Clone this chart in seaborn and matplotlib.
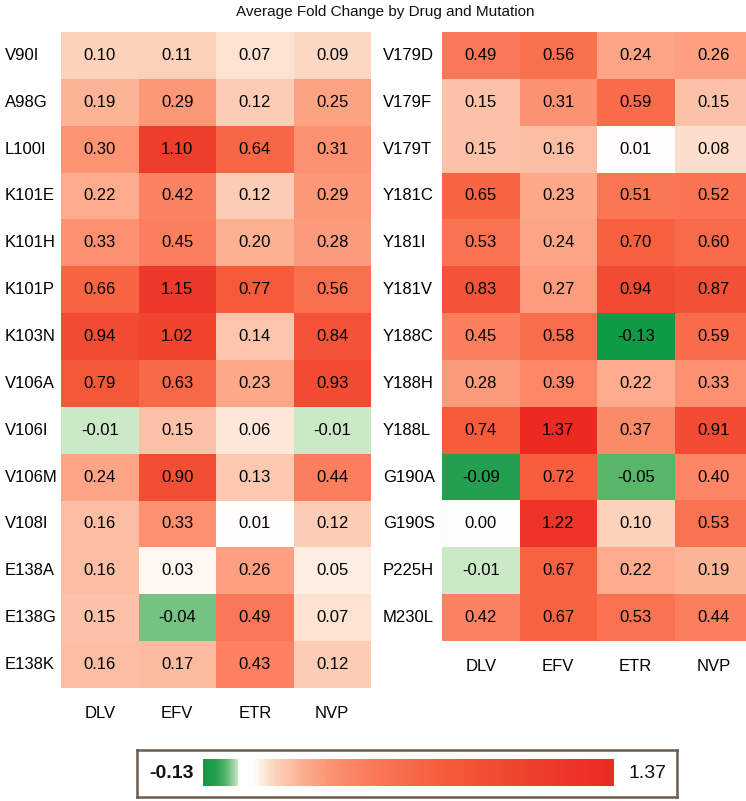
import numpy as np
import pandas as pd
import seaborn as sns
import matplotlib.pyplot as plt
from matplotlib.colors import LinearSegmentedColormap, Normalize

sns.set_style('white')
plt.rcParams['font.family'] = ['Liberation Sans', 'DejaVu Sans']

drugs = ['DLV', 'EFV', 'ETR', 'NVP']

left_muts = ['V90I', 'A98G', 'L100I', 'K101E', 'K101H', 'K101P', 'K103N',
             'V106A', 'V106I', 'V106M', 'V108I', 'E138A', 'E138G', 'E138K']
left_dlv = [0.10, 0.19, 0.30, 0.22, 0.33, 0.66, 0.94, 0.79, -0.01, 0.24, 0.16, 0.16, 0.15, 0.16]
left_efv = [0.11, 0.29, 1.10, 0.42, 0.45, 1.15, 1.02, 0.63, 0.15, 0.90, 0.33, 0.03, -0.04, 0.17]
left_etr = [0.07, 0.12, 0.64, 0.12, 0.20, 0.77, 0.14, 0.23, 0.06, 0.13, 0.01, 0.26, 0.49, 0.43]
left_nvp = [0.09, 0.25, 0.31, 0.29, 0.28, 0.56, 0.84, 0.93, -0.01, 0.44, 0.12, 0.05, 0.07, 0.12]

right_muts = ['V179D', 'V179F', 'V179T', 'Y181C', 'Y181I', 'Y181V', 'Y188C',
              'Y188H', 'Y188L', 'G190A', 'G190S', 'P225H', 'M230L']
right_dlv = [0.49, 0.15, 0.15, 0.65, 0.53, 0.83, 0.45, 0.28, 0.74, -0.09, 0.00, -0.01, 0.42]
right_efv = [0.56, 0.31, 0.16, 0.23, 0.24, 0.27, 0.58, 0.39, 1.37, 0.72, 1.22, 0.67, 0.67]
right_etr = [0.24, 0.59, 0.01, 0.51, 0.70, 0.94, -0.13, 0.22, 0.37, -0.05, 0.10, 0.22, 0.53]
right_nvp = [0.26, 0.15, 0.08, 0.52, 0.60, 0.87, 0.59, 0.33, 0.91, 0.40, 0.53, 0.19, 0.44]

vmin, vmax = -0.13, 1.37

# colour stops
stops = [(-0.13, '#0f9a45'), (-0.09, '#25a151'), (-0.05, '#5db86e'),
         (-0.01, '#d2ebcd'), (0.0, '#ffffff'), (0.02, '#fffdf7'),
         (0.06, '#fde6d8'), (0.10, '#fcd2bb'), (0.20, '#fcb092'),
         (0.30, '#fc9474'), (0.50, '#fa7655'), (0.70, '#f6603e'),
         (0.90, '#f24e33'), (1.10, '#ee3d2b'), (1.37, '#eb2a22')]
cmap = LinearSegmentedColormap.from_list(
    'gr', [((v - vmin) / (vmax - vmin), c) for v, c in stops])

left_df = pd.DataFrame({'DLV': left_dlv, 'EFV': left_efv, 'ETR': left_etr, 'NVP': left_nvp},
                       index=left_muts)
right_df = pd.DataFrame({'DLV': right_dlv, 'EFV': right_efv, 'ETR': right_etr, 'NVP': right_nvp},
                        index=right_muts)

W, H = 746, 801
fig = plt.figure(figsize=(W / 100, H / 100), dpi=100)

def px_axes(x0, y0, x1, y1):
    return fig.add_axes([x0 / W, 1 - y1 / H, (x1 - x0) / W, (y1 - y0) / H])

ax1 = px_axes(61, 32, 371, 688)
ax2 = px_axes(442, 32, 752, 641)

for ax, df, pad in [(ax1, left_df, 40.5), (ax2, right_df, 42.5)]:
    sns.heatmap(df, ax=ax, cmap=cmap, vmin=vmin, vmax=vmax, cbar=False,
                annot=True, fmt='.2f', annot_kws={'size': 12, 'color': 'black'})
    ax.tick_params(axis='both', length=0, labelsize=12, colors='black')
    ax.tick_params(axis='y', pad=pad)
    ax.tick_params(axis='x', pad=13)
    ax.set_yticklabels(df.index, rotation=0, ha='left')
    ax.set_xticklabels(drugs, rotation=0)
    ax.set_xlabel('')
    ax.set_ylabel('')

fig.text(385 / W, 1 - 12 / H, 'Average Fold Change by Drug and Mutation',
         ha='center', va='center', fontsize=11, color='#111111')

# legend box
bx0, bx1 = 137, 677
box = px_axes(bx0, 750, bx1, 797)
box.set_xticks([])
box.set_yticks([])
for s in box.spines.values():
    s.set_visible(True)
    s.set_color('#6b5a50')
    s.set_linewidth(1.8)
box.text((171 - bx0) / (bx1 - bx0), 0.5, '-0.13', transform=box.transAxes,
         ha='center', va='center', fontsize=14, fontweight='bold', color='#111111')
box.text((648 - bx0) / (bx1 - bx0), 0.5, '1.37', transform=box.transAxes,
         ha='center', va='center', fontsize=14, color='#111111')

gax = px_axes(203, 759, 238, 786)
gax.imshow(np.linspace(vmin, -0.01, 100)[None, :], aspect='auto', cmap=cmap,
           norm=Normalize(vmin, vmax))
gax.axis('off')
rax = px_axes(248, 759, 614, 786)
rax.imshow(np.linspace(0.0, vmax, 300)[None, :], aspect='auto', cmap=cmap,
           norm=Normalize(vmin, vmax))
rax.axis('off')

fig.savefig('out.png', dpi=100)
